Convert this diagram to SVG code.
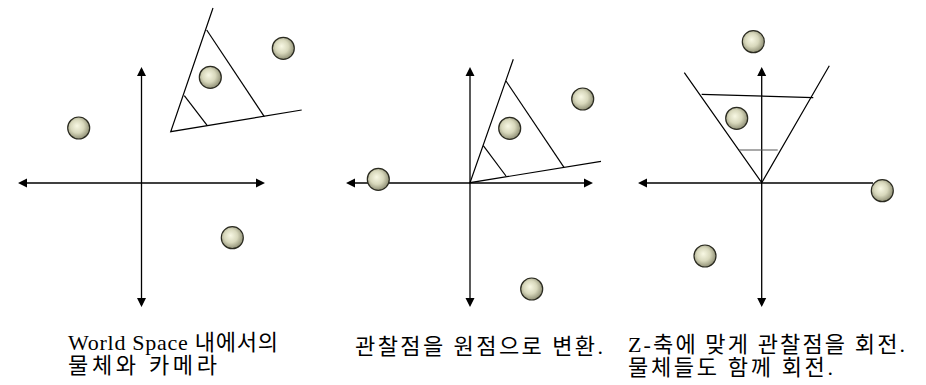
<svg xmlns="http://www.w3.org/2000/svg" width="926" height="385" viewBox="0 0 926 385">
<defs>
<radialGradient id="ball" cx="0.45" cy="0.45" r="0.6" fx="0.42" fy="0.4">
<stop offset="0" stop-color="#f8f8e4"/>
<stop offset="0.5" stop-color="#d8d8bc"/>
<stop offset="1" stop-color="#84846a"/>
</radialGradient>
</defs>
<style>
.ax{stroke:#000;stroke-width:1.3;fill:none}
.fr{stroke:#000;stroke-width:1.2;fill:none}
.ball{fill:url(#ball);stroke:#2a2a20;stroke-width:1.2}
.lbl{font-family:"Liberation Serif","Noto Sans CJK KR",serif;font-size:22px;fill:#000}
</style>
<g id="connectors">
<line class="ax" x1="141.5" y1="69" x2="141.5" y2="305"/>
<line class="ax" x1="20" y1="183" x2="263" y2="183"/>
<path d="M141.5,67 L137,76 L146,76 z M141.5,307 L137,298 L146,298 z M18,183 L27,178.5 L27,187.5 z M265,183 L256,178.5 L256,187.5 z" fill="#000"/>
<line class="ax" x1="470" y1="69" x2="470" y2="305"/>
<line class="ax" x1="348" y1="183" x2="591" y2="183"/>
<path d="M470,67 L465.5,76 L474.5,76 z M470,307 L465.5,298 L474.5,298 z M346,183 L355,178.5 L355,187.5 z M593,183 L584,178.5 L584,187.5 z" fill="#000"/>
<line class="ax" x1="761.7" y1="69" x2="761.7" y2="305"/>
<line class="ax" x1="640" y1="183" x2="873" y2="183"/>
<path d="M761.7,67 L757.2,76 L766.2,76 z M761.7,307 L757.2,298 L766.2,298 z M638,183 L647,178.5 L647,187.5 z" fill="#000"/>
</g>
<g id="frustum1">
<path class="fr" d="M213,8 L170.7,131.7 L301.7,110"/>
<line class="fr" x1="184.3" y1="95.7" x2="207.3" y2="125.7"/>
<line class="fr" x1="206.7" y1="30" x2="264.3" y2="116.7"/>
</g>
<g id="frustum2">
<path class="fr" d="M513.3,59.3 L470,182.7 L601,161.3"/>
<line class="fr" x1="483.3" y1="145.7" x2="506" y2="176"/>
<line class="fr" x1="506" y1="81" x2="564" y2="167.3"/>
</g>
<g id="frustum3">
<path class="fr" d="M684.3,72.7 L761.7,182.7 L829.3,65.7"/>
<line class="fr" x1="701.7" y1="94.3" x2="813.3" y2="97.7"/>
<line x1="739" y1="150" x2="777.7" y2="150" stroke="#555" stroke-width="1.2"/>
</g>
<g id="balls1">
<circle class="ball" cx="78.7" cy="128" r="11"/>
<circle class="ball" cx="210.3" cy="77.3" r="11"/>
<circle class="ball" cx="283.3" cy="48.3" r="11"/>
<circle class="ball" cx="232.3" cy="237.7" r="11"/>
</g>
<g id="balls2">
<circle class="ball" cx="378.3" cy="179.3" r="11"/>
<circle class="ball" cx="509.7" cy="128.3" r="11"/>
<circle class="ball" cx="582.7" cy="99" r="11"/>
<circle class="ball" cx="531.7" cy="289" r="11"/>
</g>
<g id="balls3">
<circle class="ball" cx="753.3" cy="41.7" r="11"/>
<circle class="ball" cx="736.7" cy="118.3" r="11"/>
<circle class="ball" cx="882.3" cy="190.7" r="11"/>
<circle class="ball" cx="705" cy="256" r="11"/>
</g>
<g id="label1">
<text class="lbl" x="68" y="350" textLength="210" lengthAdjust="spacing">World Space 내에서의</text>
<text class="lbl" x="68" y="373" textLength="149" lengthAdjust="spacing">물체와 카메라</text>
</g>
<g id="label2">
<text class="lbl" x="355" y="354" textLength="248" lengthAdjust="spacing">관찰점을 원점으로 변환.</text>
</g>
<g id="label3">
<text class="lbl" x="628" y="352" textLength="277" lengthAdjust="spacing">Z-축에 맞게 관찰점을 회전.</text>
<text class="lbl" x="628" y="375" textLength="205" lengthAdjust="spacing">물체들도 함께 회전.</text>
</g>
</svg>
